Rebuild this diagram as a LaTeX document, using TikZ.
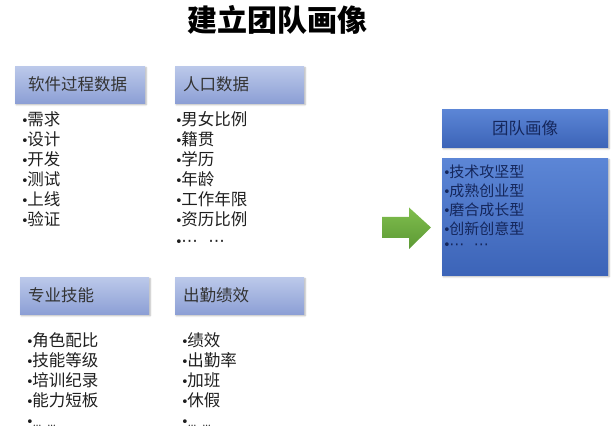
\documentclass[tikz,border=0pt]{standalone}
\usepackage{fontspec}
\newfontfamily\cjk{Noto Sans CJK SC}
\newfontfamily\dvs{DejaVu Sans}
\usetikzlibrary{shadows.blur}
\definecolor{hdrtop}{HTML}{BCC9EA}
\definecolor{hdrbot}{HTML}{8C9FD5}
\definecolor{hdrtxt}{HTML}{333333}
\definecolor{bluetop}{HTML}{5C86D6}
\definecolor{bluebot}{HTML}{3C64B8}
\definecolor{navytxt}{HTML}{15275C}
\definecolor{greentop}{HTML}{80BE4E}
\definecolor{greenbot}{HTML}{5C9934}
\tikzset{
  hdr/.style={anchor=north west, minimum height=37pt, inner ysep=0pt, inner xsep=8pt,
    top color=hdrtop, bottom color=hdrbot, text=hdrtxt, align=left,
    font=\cjk\fontsize{16.5}{20}\selectfont,
    blur shadow={shadow xshift=1pt, shadow yshift=-1.5pt, shadow blur steps=5, shadow opacity=30}},
  bluebox/.style={anchor=north west, inner sep=0pt,
    top color=bluetop, bottom color=bluebot, text=navytxt,
    font=\cjk\fontsize{16.5}{20}\selectfont,
    blur shadow={shadow xshift=1pt, shadow yshift=-1.5pt, shadow blur steps=5, shadow opacity=30}},
  item/.style={anchor=base west, inner sep=0pt, text=black!88,
    font=\cjk\fontsize{16.5}{20}\selectfont},
  ritem/.style={anchor=base west, inner sep=0pt, text=navytxt,
    font=\cjk\fontsize{15}{19}\selectfont},
  dots/.style={text height=3pt, text depth=0pt},
}
\newcommand{\bul}{{\dvs\fontsize{13}{13}\selectfont •}\kern-1.5pt}
\newcommand{\middots}{{\dvs ⋯\ \ ⋯}}
\begin{document}
\begin{tikzpicture}[x=1pt,y=-1pt]
\useasboundingbox (0,0) rectangle (614,435);
% title
\node[font=\cjk\bfseries\fontsize{30}{34}\selectfont, inner sep=0pt] (title) at (277.5,20) {建立团队画像};
% headers
\node[hdr, minimum width=130pt, text width=104pt, inner xsep=13pt] (h1) at (15,66) {软件过程数据};
\node[hdr, minimum width=129pt, text width=113pt] (h2) at (175,66) {人口数据};
\node[hdr, minimum width=129pt, text width=113pt] (h3) at (20,277) {专业技能};
\node[hdr, minimum width=129pt, text width=113pt] (h4) at (175,277) {出勤绩效};
% lists
\foreach \t [count=\i] in {需求,设计,开发,测试,上线,验证}
  \node[item] (a\i) at (21,{125.5+20.1*(\i-1)}) {\bul\t};
\foreach \t [count=\i] in {男女比例,籍贯,学历,年龄,工作年限,资历比例}
  \node[item] (b\i) at (175,{125.5+20.1*(\i-1)}) {\bul\t};
\node[item, dots] (b7) at (175,247) {\bul\middots};
\foreach \t [count=\i] in {角色配比,技能等级,培训纪录,能力短板}
  \node[item] (c\i) at (26,{346.5+20*(\i-1)}) {\bul\t};
\node[item, dots] (c5) at (26,426.5) {\bul\rmfamily\ldots\ \ldots};
\foreach \t [count=\i] in {绩效,出勤率,加班,休假}
  \node[item] (d\i) at (181,{346.5+20*(\i-1)}) {\bul\t};
\node[item, dots] (d5) at (181,426.5) {\bul\rmfamily\ldots\ \ldots};
% right side
\node[bluebox, minimum width=166pt, minimum height=38pt] (rt) at (442,109) {团队画像};
\node[bluebox, minimum width=166pt, minimum height=117pt] (rb) at (442,158) {};
\foreach \t [count=\i] in {技术攻坚型,成熟创业型,磨合成长型,创新创意型}
  \node[ritem] (r\i) at (443,{177.5+19*(\i-1)}) {\bul\t};
\node[ritem, dots] (r5) at (443,250) {\bul\middots};
% arrow
\shade[top color=greentop, bottom color=greenbot]
  (382,217) -- (409,217) -- (409,207.5) -- (431,227.5) -- (409,249) -- (409,238) -- (382,238) -- cycle;
\end{tikzpicture}
\end{document}
